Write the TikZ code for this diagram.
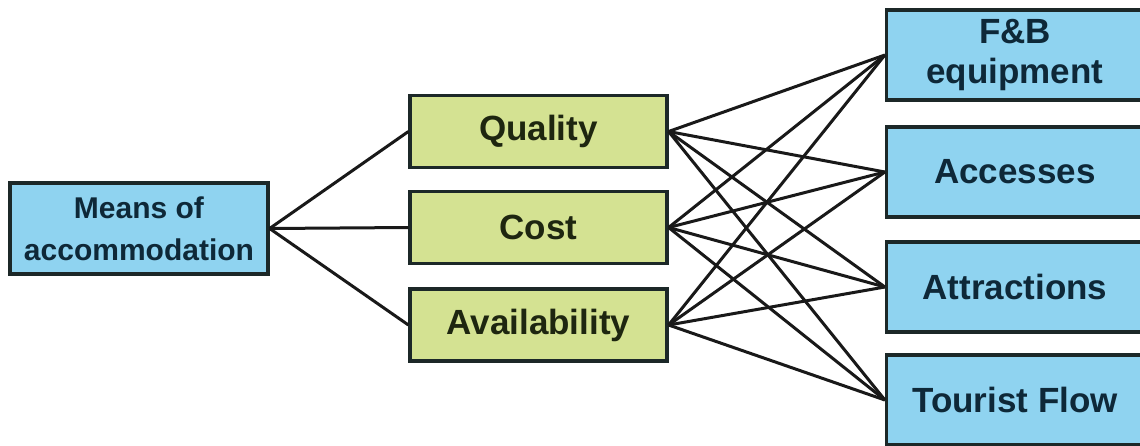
\documentclass[tikz,border=0pt]{standalone}
\usepackage{fontspec}
\setmainfont{Liberation Sans}
\definecolor{boxblue}{RGB}{143,211,240}
\definecolor{boxgreen}{RGB}{212,226,146}
\definecolor{edgedark}{RGB}{28,40,40}
\definecolor{inkblue}{RGB}{14,40,56}
\definecolor{inkgreen}{RGB}{30,38,16}
\tikzset{
  box/.style={draw=edgedark, line width=3.2pt, rectangle, inner sep=0pt,
    align=center, font=\fontsize{35}{40}\selectfont\bfseries},
  bluebox/.style={box, fill=boxblue, text=inkblue},
  greenbox/.style={box, fill=boxgreen, text=inkgreen,
    minimum width=257pt, minimum height=72pt},
  sidebox/.style={bluebox, minimum width=257pt, minimum height=90pt},
  link/.style={draw=black!90, line width=3pt}
}
\begin{document}
\begin{tikzpicture}[x=1pt, y=-1pt]
  \useasboundingbox (0,0) rectangle (1140,445);
  \clip (0,0) rectangle (1140,445);
  \fill[white] (0,0) rectangle (1140,445);

  % left root
  \node[bluebox, minimum width=258pt, minimum height=91pt,
        font=\fontsize{30}{42}\selectfont\bfseries] (means) at (139,228.5)
    {Means of\\accommodation};

  % middle criteria
  \node[greenbox] (quality) at (538.5,131.5) {Quality};
  \node[greenbox] (cost)    at (538.5,227.5) {Cost};
  \node[greenbox] (avail)   at (538.5,325)   {Availability};

  % right factors
  \node[sidebox] (fb)      at (1015,55)  {F\&B\\equipment};
  \node[sidebox] (access)  at (1015,172) {Accesses};
  \node[sidebox] (attract) at (1015,287) {Attractions};
  \node[sidebox] (flow)    at (1015,400) {Tourist Flow};

  % root to criteria
  \foreach \c in {quality,cost,avail}
    \draw[link] (means.east) -- (\c.west);

  % every criterion to every factor
  \foreach \c in {quality,cost,avail}
    \foreach \f in {fb,access,attract,flow}
      \draw[link] (\c.east) -- (\f.west);
\end{tikzpicture}
\end{document}
